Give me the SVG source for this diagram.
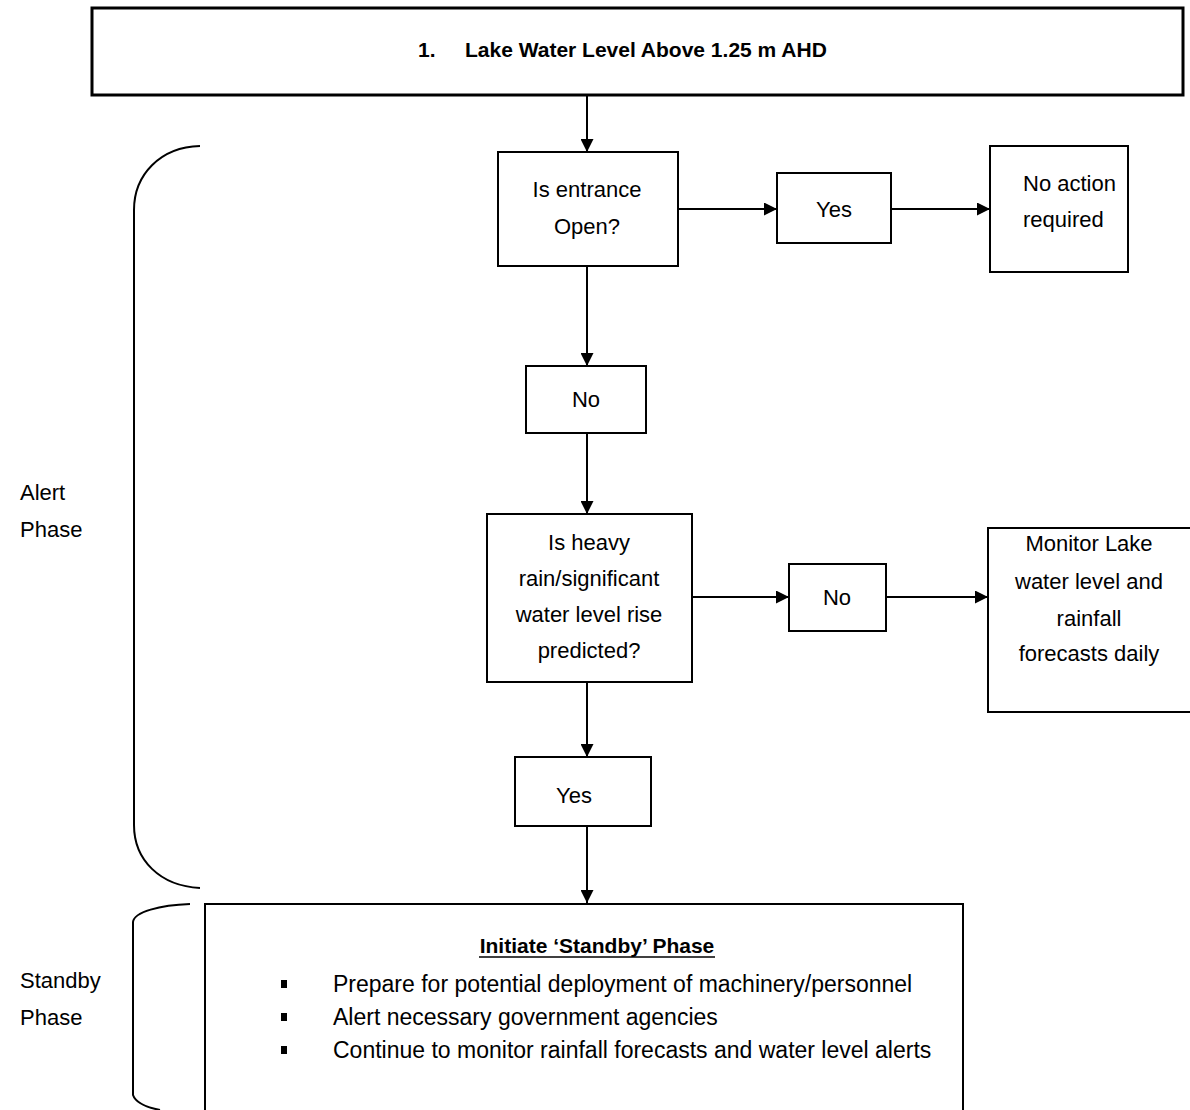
<svg xmlns="http://www.w3.org/2000/svg" width="1190" height="1110" viewBox="0 0 1190 1110">
<style>
text{font-family:"Liberation Sans",Arial,sans-serif;font-size:22px;fill:#000}
.c{text-anchor:middle}
.b{font-weight:bold}
.li{font-size:23px}
.box{fill:#fff;stroke:#000;stroke-width:2}
.ln{fill:none;stroke:#000;stroke-width:2}
</style>
<defs>
<marker id="ah" viewBox="0 0 10 10" refX="10" refY="5" markerWidth="14" markerHeight="13" orient="auto" markerUnits="userSpaceOnUse">
<path d="M0,0 L10,5 L0,10 Z" fill="#000"/>
</marker>
</defs>
<rect width="1190" height="1110" fill="#fff"/>
<g id="connectors">
<line class="ln" x1="587" y1="95" x2="587" y2="152" marker-end="url(#ah)"/>
<line class="ln" x1="678" y1="209" x2="777" y2="209" marker-end="url(#ah)"/>
<line class="ln" x1="891" y1="209" x2="990" y2="209" marker-end="url(#ah)"/>
<line class="ln" x1="587" y1="266" x2="587" y2="366" marker-end="url(#ah)"/>
<line class="ln" x1="587" y1="433" x2="587" y2="514" marker-end="url(#ah)"/>
<line class="ln" x1="692" y1="597" x2="789" y2="597" marker-end="url(#ah)"/>
<line class="ln" x1="886" y1="597" x2="988" y2="597" marker-end="url(#ah)"/>
<line class="ln" x1="587" y1="682" x2="587" y2="757" marker-end="url(#ah)"/>
<line class="ln" x1="587" y1="826" x2="587" y2="903" marker-end="url(#ah)"/>
</g>
<g id="braces">
<path class="ln" d="M200,146 C160,147 134,175 134,210 L134,825 C134,860 160,886 200,888"/>
<path class="ln" d="M190,904 C160,905 134,912 133,922 L133,1095 C136,1104 150,1108 160,1110"/>
<text x="20" y="500">Alert</text>
<text x="20" y="537">Phase</text>
<text x="20" y="988">Standby</text>
<text x="20" y="1025">Phase</text>
</g>
<g id="n1">
<rect x="92" y="8" width="1091" height="87" fill="#fff" stroke="#000" stroke-width="3"/>
<text class="b" x="418" y="57" style="font-size:21px">1.</text>
<text class="b" x="465" y="57" style="font-size:21px">Lake Water Level Above 1.25 m AHD</text>
</g>
<g id="n2">
<rect class="box" x="498" y="152" width="180" height="114"/>
<text class="c" x="587" y="197">Is entrance</text>
<text class="c" x="587" y="234">Open?</text>
</g>
<g id="n3">
<rect class="box" x="777" y="173" width="114" height="70"/>
<text class="c" x="834" y="217">Yes</text>
</g>
<g id="n4">
<rect class="box" x="990" y="146" width="138" height="126"/>
<text x="1023" y="191">No action</text>
<text x="1023" y="227">required</text>
</g>
<g id="n5">
<rect class="box" x="526" y="366" width="120" height="67"/>
<text class="c" x="586" y="407">No</text>
</g>
<g id="n6">
<rect class="box" x="487" y="514" width="205" height="168"/>
<text class="c" x="589" y="550">Is heavy</text>
<text class="c" x="589" y="586">rain/significant</text>
<text class="c" x="589" y="622">water level rise</text>
<text class="c" x="589" y="658">predicted?</text>
</g>
<g id="n7">
<rect class="box" x="789" y="564" width="97" height="67"/>
<text class="c" x="837" y="605">No</text>
</g>
<g id="n8">
<rect class="box" x="988" y="528" width="210" height="184"/>
<text class="c" x="1089" y="551">Monitor Lake</text>
<text class="c" x="1089" y="589">water level and</text>
<text class="c" x="1089" y="626">rainfall</text>
<text class="c" x="1089" y="661">forecasts daily</text>
</g>
<g id="n9">
<rect class="box" x="515" y="757" width="136" height="69"/>
<text class="c" x="574" y="803">Yes</text>
</g>
<g id="n10">
<rect class="box" x="205" y="904" width="758" height="220"/>
<text class="c b" x="597" y="953" style="font-size:21px">Initiate ‘Standby’ Phase</text>
<line x1="479" y1="957" x2="715" y2="957" stroke="#000" stroke-width="1.5"/>
<rect x="281" y="980" width="6" height="8" fill="#000"/>
<rect x="281" y="1013" width="6" height="8" fill="#000"/>
<rect x="281" y="1046" width="6" height="8" fill="#000"/>
<text class="li" x="333" y="992">Prepare for potential deployment of machinery/personnel</text>
<text class="li" x="333" y="1025">Alert necessary government agencies</text>
<text class="li" x="333" y="1058">Continue to monitor rainfall forecasts and water level alerts</text>
</g>
</svg>
